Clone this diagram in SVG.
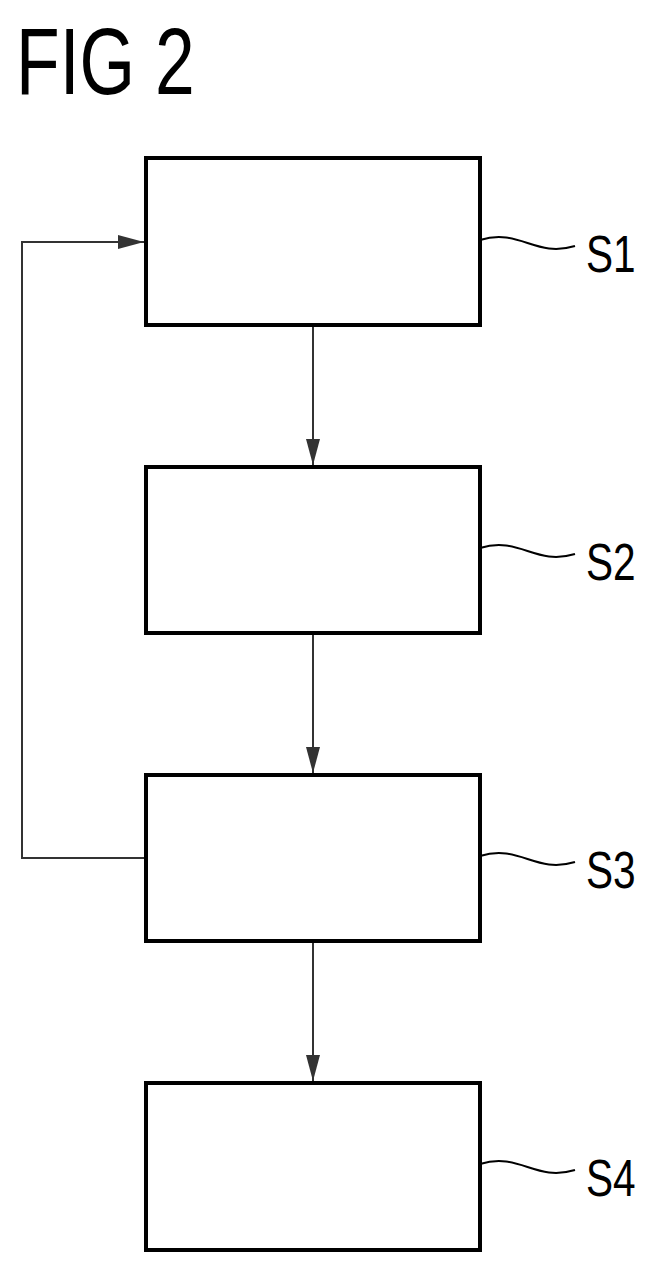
<svg xmlns="http://www.w3.org/2000/svg" width="668" height="1274" viewBox="0 0 668 1274">
<style>
.box{fill:#fff;stroke:#000;stroke-width:4}
.ln{fill:none;stroke:#333;stroke-width:2}
.sq{fill:none;stroke:#000;stroke-width:2}
.lb{font-family:"Liberation Sans",Arial,sans-serif;font-size:52px;fill:#000}
</style>
<defs><marker id="ahb" markerWidth="26" markerHeight="14" refX="26" refY="7" orient="auto" markerUnits="userSpaceOnUse"><path d="M0,0 L26,7 L0,14 Z" fill="#333"/></marker></defs>
<text transform="translate(16,94) scale(0.76,1)" font-family="Liberation Sans,Arial,sans-serif" font-size="94">FIG 2</text>
<g id="connectors">
<line class="ln" x1="313" y1="327" x2="313" y2="465" marker-end="url(#ahb)"/>
<line class="ln" x1="313" y1="635" x2="313" y2="773" marker-end="url(#ahb)"/>
<line class="ln" x1="313" y1="943" x2="313" y2="1081" marker-end="url(#ahb)"/>
<polyline class="ln" points="146,858 22,858 22,242 144,242" marker-end="url(#ahb)"/>
</g>
<g id="s1"><rect class="box" x="146" y="158" width="334" height="167"/><path class="sq" d="M480,240 C520,228 535,258 575,246"/><text class="lb" transform="translate(586,272) scale(0.78,1)">S1</text></g>
<g id="s2"><rect class="box" x="146" y="467" width="334" height="166"/><path class="sq" d="M480,548 C520,536 535,566 575,554"/><text class="lb" transform="translate(586,580) scale(0.78,1)">S2</text></g>
<g id="s3"><rect class="box" x="146" y="775" width="334" height="166"/><path class="sq" d="M480,856 C520,844 535,874 575,862"/><text class="lb" transform="translate(586,888) scale(0.78,1)">S3</text></g>
<g id="s4"><rect class="box" x="146" y="1083" width="334" height="167"/><path class="sq" d="M480,1164 C520,1152 535,1182 575,1170"/><text class="lb" transform="translate(586,1196) scale(0.78,1)">S4</text></g>
</svg>
